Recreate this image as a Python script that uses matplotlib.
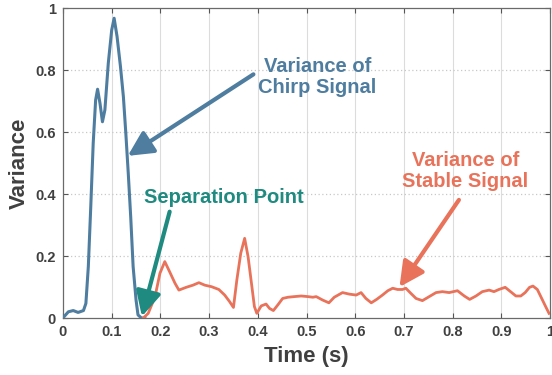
import matplotlib
matplotlib.use("Agg")
import matplotlib.pyplot as plt

plt.rcParams['font.family'] = ['Liberation Sans', 'DejaVu Sans']

# Chirp signal variance
chirp_t = [0.0, 0.002, 0.011, 0.021, 0.031, 0.042, 0.047, 0.052, 0.057, 0.062, 0.067,
           0.071, 0.076, 0.081, 0.086, 0.093, 0.100, 0.105, 0.111, 0.118, 0.124,
           0.129, 0.134, 0.139, 0.144, 0.150, 0.154, 0.161, 0.168]
chirp_v = [0.0, 0.004, 0.020, 0.024, 0.018, 0.024, 0.047, 0.166, 0.359, 0.563, 0.703,
           0.738, 0.692, 0.633, 0.671, 0.822, 0.929, 0.967, 0.908, 0.811, 0.714,
           0.596, 0.467, 0.327, 0.166, 0.058, 0.010, 0.0, 0.0]

# Stable signal variance
stable_t = [0.165, 0.175, 0.189, 0.199, 0.209, 0.219, 0.230, 0.238, 0.253, 0.267,
            0.279, 0.291, 0.305, 0.320, 0.332, 0.342, 0.350, 0.357, 0.365, 0.373,
            0.380, 0.387, 0.393, 0.398, 0.407, 0.417, 0.424, 0.432, 0.441, 0.451,
            0.462, 0.475, 0.489, 0.503, 0.513, 0.520, 0.533, 0.546, 0.557, 0.574,
            0.588, 0.602, 0.612, 0.622, 0.633, 0.644, 0.656, 0.667, 0.677, 0.687,
            0.697, 0.704, 0.714, 0.725, 0.738, 0.752, 0.766, 0.779, 0.793, 0.810,
            0.824, 0.835, 0.848, 0.861, 0.875, 0.885, 0.895, 0.908, 0.919, 0.930,
            0.940, 0.949, 0.958, 0.965, 0.974, 0.983, 0.991, 0.998]
stable_v = [0.0, 0.015, 0.069, 0.144, 0.182, 0.149, 0.112, 0.090, 0.099, 0.106,
            0.114, 0.106, 0.101, 0.092, 0.074, 0.053, 0.034, 0.123, 0.209, 0.257,
            0.198, 0.112, 0.037, 0.015, 0.039, 0.045, 0.031, 0.024, 0.042, 0.063,
            0.067, 0.069, 0.071, 0.069, 0.067, 0.069, 0.058, 0.049, 0.067, 0.082,
            0.077, 0.074, 0.082, 0.063, 0.049, 0.060, 0.074, 0.088, 0.096, 0.092,
            0.092, 0.096, 0.080, 0.063, 0.056, 0.069, 0.082, 0.085, 0.082, 0.088,
            0.071, 0.060, 0.071, 0.085, 0.090, 0.085, 0.092, 0.099, 0.085, 0.071,
            0.071, 0.082, 0.099, 0.103, 0.092, 0.063, 0.037, 0.015]

x_ticks = [0, 0.1, 0.2, 0.3, 0.4, 0.5, 0.6, 0.7, 0.8, 0.9, 1]
x_tick_labels = ['0', '0.1', '0.2', '0.3', '0.4', '0.5', '0.6', '0.7', '0.8', '0.9', '1']
y_ticks = [0, 0.2, 0.4, 0.6, 0.8, 1]
y_tick_labels = ['0', '0.2', '0.4', '0.6', '0.8', '1']

BLUE = '#4E7DA0'
ORANGE = '#E8735A'
TEAL = '#1E8A80'
GRAY = '#404040'

fig = plt.figure(figsize=(5.52, 3.75), dpi=100)
ax = fig.add_axes([63/552, 57/375, 487/552, 310/375])

ax.set_xlim(0, 1)
ax.set_ylim(0, 1)

# grid: vertical solid, horizontal dotted
for xv in x_ticks[1:-1]:
    ax.axvline(xv, color='#dcdcdc', lw=0.8, zorder=0)
for yv in y_ticks[1:-1]:
    ax.axhline(yv, color='#c8c8c8', lw=0.9, ls=(0, (1, 2)), zorder=0)

ax.plot(chirp_t, chirp_v, color=BLUE, lw=2.2, solid_joinstyle='round', zorder=3)
ax.plot(stable_t, stable_v, color=ORANGE, lw=2.0, solid_joinstyle='round', zorder=3)

ax.set_xticks(x_ticks)
ax.set_xticklabels(x_tick_labels)
ax.set_yticks(y_ticks)
ax.set_yticklabels(y_tick_labels)
ax.tick_params(direction='in', length=3.5, width=0.8, colors='#555555',
               top=True, right=True, labelsize=10.5, pad=5, labelcolor=GRAY)
for lbl in ax.get_xticklabels() + ax.get_yticklabels():
    lbl.set_fontweight('bold')
for sp in ax.spines.values():
    sp.set_color('#6a6a6a')
    sp.set_linewidth(0.9)

ax.set_xlabel('Time (s)', fontsize=16, fontweight='bold', color=GRAY, labelpad=5)
ax.set_ylabel('Variance', fontsize=16, fontweight='bold', color=GRAY, labelpad=4)

def arrow(tail, tip, color):
    ax.annotate('', xy=tip, xytext=tail,
                arrowprops=dict(arrowstyle='-|>,head_length=0.75,head_width=0.38',
                                mutation_scale=20, color=color, lw=3,
                                shrinkA=0, shrinkB=0),
                zorder=5)

ax.text(0.522, 0.777, 'Variance of\nChirp Signal', color=BLUE, fontsize=14.5,
        fontweight='bold', ha='center', va='center', linespacing=1.1, zorder=6)
arrow((0.391, 0.786), (0.133, 0.523), BLUE)

ax.text(0.330, 0.388, 'Separation Point', color=TEAL, fontsize=14.5,
        fontweight='bold', ha='center', va='center', zorder=6)
arrow((0.219, 0.343), (0.162, 0.005), TEAL)

ax.text(0.826, 0.474, 'Variance of\nStable Signal', color=ORANGE, fontsize=14.5,
        fontweight='bold', ha='center', va='center', linespacing=1.1, zorder=6)
arrow((0.813, 0.381), (0.691, 0.100), ORANGE)

fig.savefig('out.png', dpi=100)
